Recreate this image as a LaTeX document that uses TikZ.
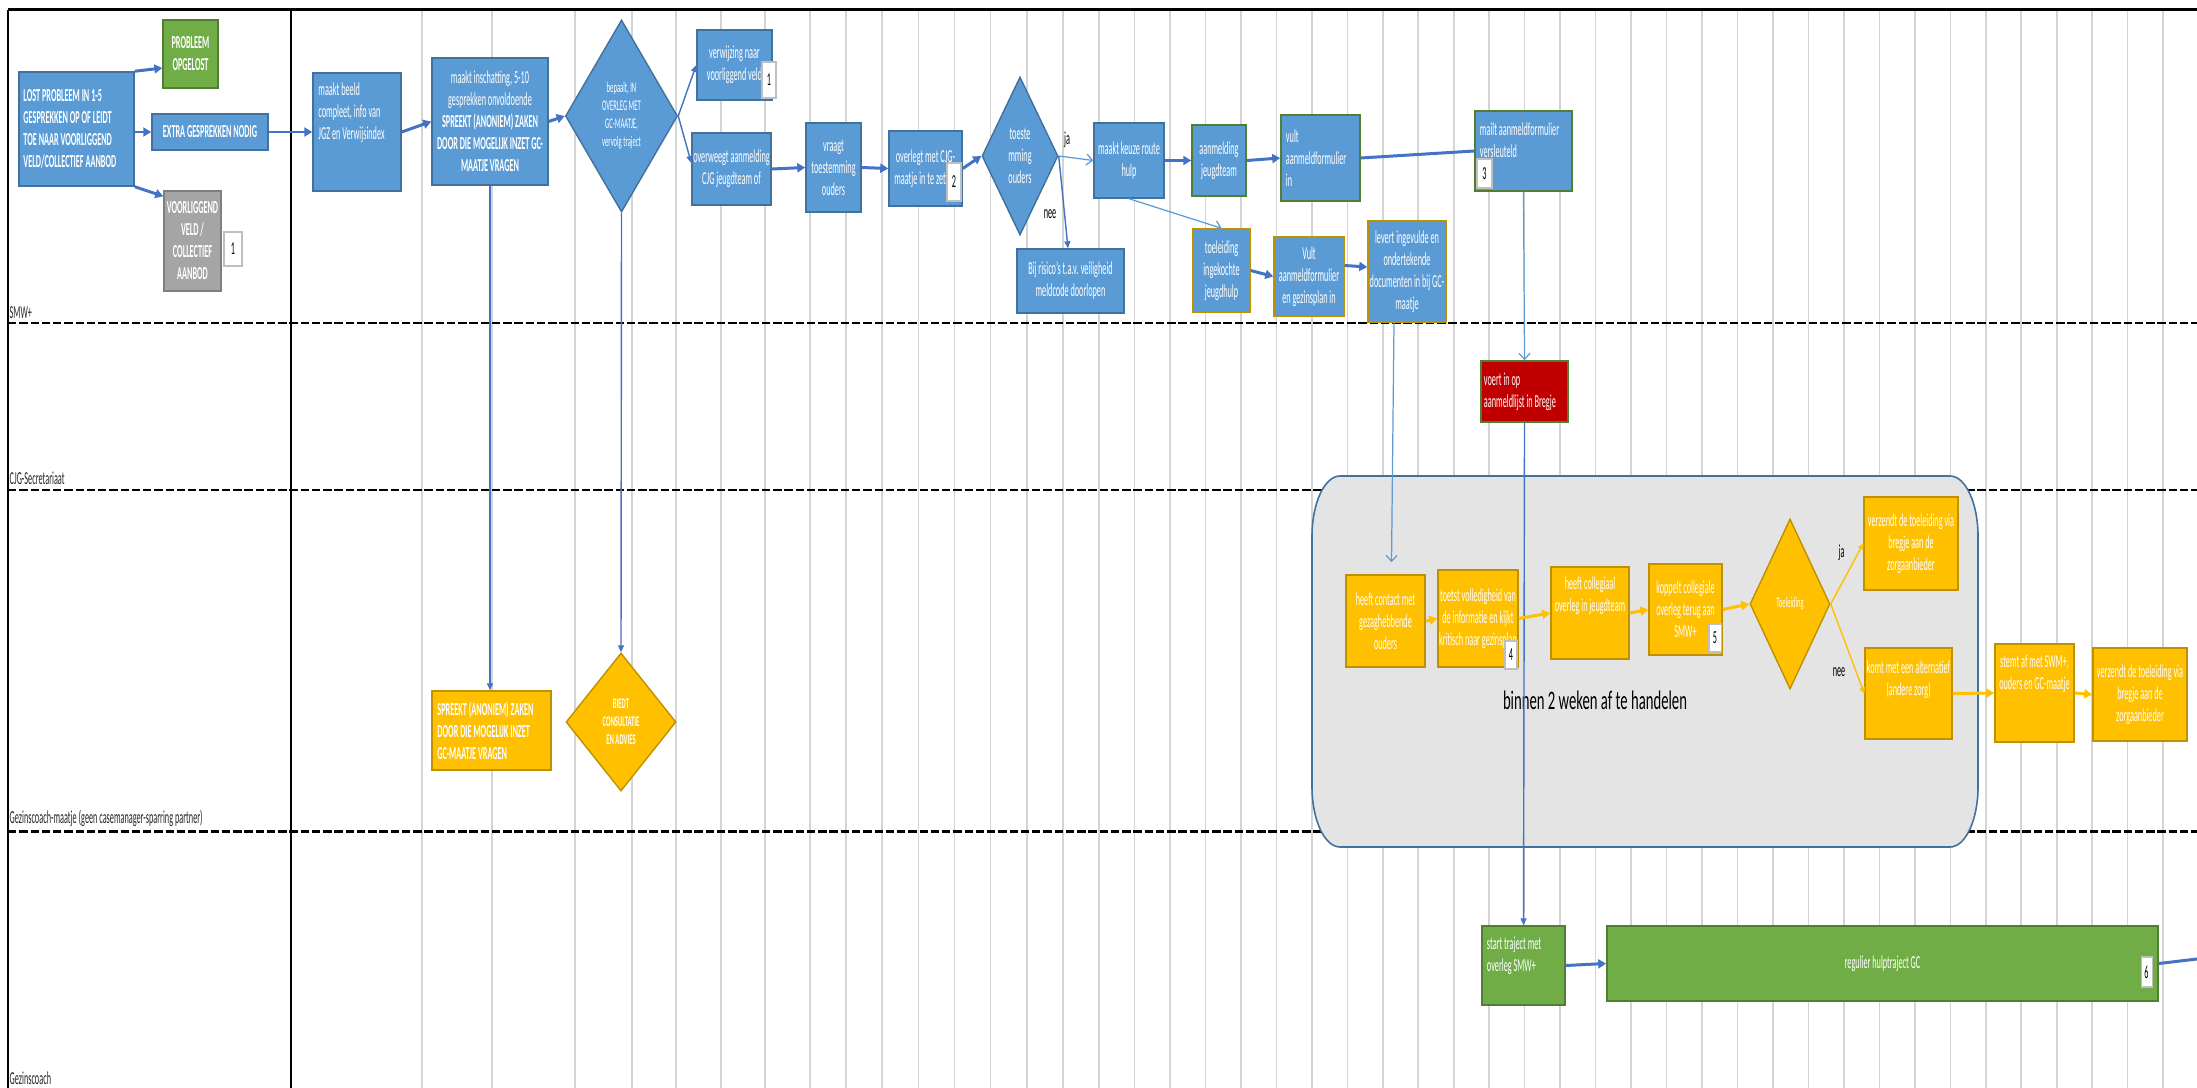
\documentclass[tikz,border=0pt]{standalone}
\usepackage{fontspec}
\setmainfont{Carlito}[FakeStretch=0.45]
\newfontfamily\grootfont{Carlito}[FakeStretch=0.55]
\usetikzlibrary{arrows.meta,backgrounds,shapes.geometric}

\definecolor{vlakblauw}{HTML}{5B9BD5}
\definecolor{randblauw}{HTML}{41719C}
\definecolor{lijnblauw}{HTML}{4472C4}
\definecolor{vlakgroen}{HTML}{70AD47}
\definecolor{randgroen}{HTML}{507E32}
\definecolor{randgoud}{HTML}{BF9000}
\definecolor{vlakgeel}{HTML}{FFC000}
\definecolor{vlakgrijs}{HTML}{A5A5A5}
\definecolor{randgrijs}{HTML}{7F7F7F}
\definecolor{vlakrood}{HTML}{C00000}
\definecolor{kadervlak}{HTML}{E4E4E4}
\definecolor{raster}{HTML}{D4D4D4}

\tikzset{
  letter/.style={font=\fontsize{5.2}{6.25}\selectfont},
  vet/.style={font=\fontsize{5.2}{6.25}\selectfont\bfseries},
  klein/.style={font=\fontsize{4.2}{5.1}\selectfont},
  kleinvet/.style={font=\fontsize{4.2}{5.1}\selectfont\bfseries},
  basis/.style={letter, line width=0.4pt, inner sep=0pt, text=white, align=center},
  blauw/.style={basis, draw=randblauw, fill=vlakblauw},
  blauwgroen/.style={blauw, draw=randgroen},
  blauwgoud/.style={blauw, draw=randgoud},
  groen/.style={basis, draw=randgroen, fill=vlakgroen},
  grijs/.style={basis, draw=randgrijs, fill=vlakgrijs},
  geel/.style={basis, draw=randgoud, fill=vlakgeel},
  rood/.style={basis, draw=randgroen, fill=vlakrood},
  ruit/.style={diamond, aspect=#1},
  maat/.style 2 args={minimum width=#1mm, minimum height=#2mm},
  nummer/.style={letter, draw=black!25, fill=white, line width=0.3pt, inner sep=0pt},
  tekst/.style={letter, text=white, inner sep=0pt, align=flush left},
  baan/.style={letter, anchor=base west, inner sep=0pt, text=black!85},
  keus/.style={letter, inner sep=0pt, text=black},
  dik/.style={draw=lijnblauw, line width=0.85pt, -{Triangle[length=0.8mm, width=0.9mm]}},
  dun/.style={draw=lijnblauw, line width=0.4pt, -{Triangle[length=0.7mm, width=0.6mm]}},
  licht/.style={draw=vlakblauw, line width=0.35pt, -{Straight Barb[length=0.6mm, width=1.1mm]}},
  geelpijl/.style={draw=vlakgeel, line width=0.85pt, -{Triangle[length=0.8mm, width=0.9mm]}},
  geeldun/.style={draw=vlakgeel, line width=0.4pt, -{Triangle[length=0.6mm, width=0.6mm]}},
  baanlijn/.style={line width=0.85pt, dash pattern=on 2.4pt off 0.8pt},
}

\begin{document}
\begin{tikzpicture}[x=0.01cm, y=-0.01cm]
\useasboundingbox (0,0) rectangle (2197,1088);

% baan SMW+
\node[blauw, vet, maat={11.5}{11.4}, text width=10.6mm, align=flush left] (lost) at (76.5,129)
  {LOST PROBLEEM IN 1-5\\GESPREKKEN OP OF LEIDT\\TOE NAAR VOORLIGGEND\\VELD/COLLECTIEF AANBOD};
\node[groen, vet, maat={5.5}{6.8}] (opgelost) at (190.5,54) {PROBLEEM\\OPGELOST};
\node[blauw, vet, maat={11.6}{3.6}] (extra) at (210,132) {EXTRA GESPREKKEN NODIG};
\node[grijs, vet, maat={5.7}{10}] (voorl) at (192.5,241) {VOORLIGGEND\\VELD /\\COLLECTIEF\\AANBOD};
\node[nummer, maat={1.8}{3.4}] (nr1a) at (233,249) {1};

\node[blauw, maat={8.8}{11.8}] (beeld) at (357,132) {};
\node[tekst, text width=7.7mm] (beeldT) at ([yshift=1.9mm]beeld) {maakt beeld\\compleet, info van\\JGZ en Verwijsindex};
\node[blauw, maat={11.6}{12.7}] (inschat) at (490,121.5)
  {maakt inschatting, 5-10\\gesprekken onvoldoende\\\textbf{SPREEKT (ANONIEM) ZAKEN}\\\textbf{DOOR DIE MOGELIJK INZET GC-}\\\textbf{MAATJE VRAGEN}};
\node[blauw, klein, ruit=0.58, maat={11.2}{19.2}] (bepaalt) at (621.5,116) {bepaalt, IN\\OVERLEG MET\\GC-MAATJE,\\vervolg traject};

\node[blauw, maat={7.5}{7}] (verwijz) at (734.5,65) {verwijzing naar\\voorliggend veld};
\node[nummer, maat={1.4}{3.6}] (nr1b) at (769,80) {1};
\node[blauw, maat={7.9}{7.2}] (overweegt) at (731.5,169) {overweegt aanmelding\\CJG jeugdteam of};
\node[blauw, maat={5.5}{8.9}] (vraagt) at (833.5,167.5) {vraagt\\toestemming\\ouders};
\node[blauw, maat={7.3}{7.5}] (overlegt) at (925.5,168.5) {overlegt met CJG-\\maatje in te zetten};
\node[nummer, maat={1.4}{3.8}] (nr2) at (954,182) {2};
\node[blauw, ruit=0.48, maat={7.6}{15.8}] (toestem) at (1020,156) {toeste\\mming\\ouders};
\node[blauw, maat={10.7}{6.4}] (risico) at (1070.5,281) {Bij risico's t.a.v. veiligheid\\meldcode doorlopen};

\node[blauw, maat={7}{7.5}] (keuze) at (1129,160.5) {maakt keuze route\\hulp};
\node[blauwgroen, maat={5.4}{7.1}] (aanmjt) at (1219,160.5) {aanmelding\\jeugdteam};
\node[blauwgroen, maat={7.9}{8.6}, text width=6.9mm, align=flush left] (vult) at (1320.5,158) {vult\\aanmeldformulier\\in};
\node[blauwgroen, maat={9.7}{8}] (mailt) at (1523.5,151) {};
\node[tekst, text width=8.7mm] (mailtT) at ([yshift=1.1mm]mailt) {mailt aanmeldformulier\\versleuteld};
\node[nummer, maat={1.5}{2.9}] (nr3) at (1484.5,173.5) {3};

\node[blauwgoud, maat={5.7}{8.3}] (toeleid) at (1221.5,270.5) {toeleiding\\ingekochte\\jeugdhulp};
\node[blauwgoud, maat={7}{7.9}] (vultgp) at (1309,276.5) {Vult\\aanmeldformulier\\en gezinsplan in};
\node[blauwgoud, maat={7.8}{10.1}] (levert) at (1407,271.5) {levert ingevulde en\\ondertekende\\documenten in bij GC-\\maatje};

\node[keus] (ja1) at (1067,140) {ja};
\node[keus] (nee1) at (1050,214) {nee};

% baan CJG-Secretariaat
\node[rood, maat={8.7}{6.1}, text width=8.1mm, align=flush left] (voert) at (1524.5,391.5) {voert in op\\aanmeldlijst in Bregje};

% baan Gezinscoach-maatje
\node[geel, vet, maat={11.9}{7.9}, text width=10.8mm, align=flush left] (spreekt) at (491.5,730.5)
  {SPREEKT (ANONIEM) ZAKEN\\DOOR DIE MOGELIJK INZET\\GC-MAATJE VRAGEN};
\node[geel, kleinvet, ruit=0.8, maat={11}{13.8}] (biedt) at (621,722) {BIEDT\\CONSULTATIE\\EN ADVIES};

\node[geel, maat={7.9}{9.2}] (contact) at (1385.5,621) {heeft contact met\\gezaghebbende\\ouders};
\node[geel, maat={8}{9.7}] (toetst) at (1478,618.5) {toetst volledigheid van\\de informatie en kijkt\\kritisch naar gezinsplan};
\node[nummer, maat={1.2}{2.8}] (nr4) at (1511,655) {4};
\node[geel, maat={7.8}{9.2}] (colleg) at (1590,613) {};
\node[tekst, align=center] (collegT) at ([yshift=1.7mm]colleg) {heeft collegiaal\\overleg in jeugdteam};
\node[geel, maat={7.3}{9.1}] (koppelt) at (1685.5,609.5) {koppelt collegiale\\overleg terug aan\\SMW+};
\node[nummer, maat={1.2}{2.8}] (nr5) at (1715,638) {5};
\node[geel, klein, ruit=0.47, maat={8}{17}] (toeldia) at (1790,604) {Toeleiding};
\node[geel, maat={9.4}{9.3}] (verz1) at (1911,543.5) {verzendt de toeleiding via\\bregje aan de\\zorgaanbieder};
\node[geel, maat={8.7}{9.1}] (alt) at (1908.5,693.5) {};
\node[tekst, align=center] (altT) at ([yshift=1.4mm]alt) {komt met een alternatief\\(andere zorg)};
\node[keus] (ja2) at (1841.5,553) {ja};
\node[keus] (nee2) at (1839,672) {nee};
\node[geel, maat={7.9}{9.8}] (stemt) at (2034.5,693) {};
\node[tekst, align=center] (stemtT) at ([yshift=1.9mm]stemt) {stemt af met SWM+,\\ouders en GC-maatje};
\node[geel, maat={9.4}{9.3}] (verz2) at (2140,694.5) {verzendt de toeleiding via\\bregje aan de\\zorgaanbieder};
\node[inner sep=0pt, text=black, font=\grootfont\fontsize{7.6}{9}\selectfont] (binnen) at (1595,700) {binnen 2 weken af te handelen};

% baan Gezinscoach
\node[groen, maat={8.3}{7.9}] (start) at (1523.5,965.5) {};
\node[tekst, text width=7.3mm] (startT) at ([yshift=1mm]start) {start traject met\\overleg SMW+};
\node[groen, maat={55.1}{7.5}] (regulier) at (1882.5,963.5) {regulier hulptraject GC};
\node[nummer, maat={1.1}{3}] (nr6) at (2146.5,972) {6};
\coordinate (uit) at (2197,959);

% baannamen
\node[baan] (lsmw) at (9,318) {SMW+};
\node[baan] (lcjg) at (9,484) {CJG-Secretariaat};
\node[baan] (lgcm) at (9,823) {Gezinscoach-maatje (geen casemanager-sparring partner)};
\node[baan] (lgc) at (9,1084) {Gezinscoach};

% pijlen
\draw[dik] (lost.north east) -- ([yshift=-1.4mm]opgelost.west);
\draw[dik] (extra.west -| lost.east) -- (extra.west);
\draw[dik] (lost.south east) -- ([yshift=-0.6mm]voorl.north west);
\draw[dik] (extra.east) -- (extra.east -| beeld.west);
\draw[dik] (beeld.east) -- (inschat.west);
\draw[dik] (inschat.east) -- (bepaalt.west);
\draw[dun] (bepaalt.east) -- (verwijz.west);
\draw[dun] (bepaalt.east) -- ([yshift=0.6mm]overweegt.west);
\draw[dik] (overweegt.east) -- (vraagt.west);
\draw[dik] (vraagt.east) -- (overlegt.west);
\draw[dik] (overlegt.east) -- (toestem.west);
\draw[licht] (toestem.east) -- (keuze.west);
\draw[dun] (toestem.east) -- ([xshift=-0.25mm]risico.north);
\draw[dik] (keuze.east) -- (aanmjt.west);
\draw[dik] (aanmjt.east) -- (vult.west);
\draw[draw=lijnblauw, line width=0.85pt] (vult.east) -- (mailt.west);
\draw[licht] (keuze.south) -- (toeleid.north);
\draw[dik] (toeleid.east) -- (vultgp.west);
\draw[dik] ([yshift=1.1mm]vultgp.east) -- ([yshift=0.45mm]levert.west);
\draw[licht] ([xshift=-1.3mm]levert.south) -- ([xshift=0.6mm,yshift=1.2mm]contact.north);
\draw[licht] (mailt.south) -- (voert.north);
\draw[dun] (voert.south) -- (start.north);
\draw[dun] (inschat.south) -- (inschat.south |- spreekt.north);
\draw[dun] (bepaalt.south) -- (biedt.north);
\draw[dik] (start.east) -- (regulier.west);
\draw[draw=lijnblauw, line width=0.85pt] (regulier.east) -- (uit);

\draw[geelpijl] (contact.east) -- (toetst.west);
\draw[geelpijl] (toetst.east) -- (colleg.west);
\draw[geelpijl] (colleg.east) -- (koppelt.west);
\draw[geelpijl] (koppelt.east) -- (toeldia.west);
\draw[geeldun] (toeldia.east) -- (verz1.west);
\draw[geeldun] (toeldia.east) -- (alt.west);
\draw[geelpijl] (alt.east) -- (stemt.west);
\draw[geelpijl] (stemt.east) -- (verz2.west);

\begin{pgfonlayer}{background}
\foreach \x in {422,492,575,632,676,721,765,810}
  \draw[raster, line width=0.45pt] (\x,10) -- (\x,1088);
\foreach \i in {0,...,6}
  \draw[raster, line width=0.45pt] ({846+36.14*\i},10) -- ({846+36.14*\i},1088);
\foreach \i in {0,...,30}
  \draw[raster, line width=0.45pt] ({1099+35.47*\i},10) -- ({1099+35.47*\i},1088);
\foreach \y in {323,490,831}
  \draw[baanlijn] (8,\y) -- (2197,\y);
\draw[line width=0.95pt] (8,9.6) -- (2197,9.6);
\draw[line width=0.6pt] (8,9.6) -- (8,1088);
\draw[line width=0.6pt] (291,9.6) -- (291,1088);
% kader binnen 2 weken
\draw[draw=randblauw, fill=kadervlak, line width=0.45pt]
  (1340,476) -- (1950,476) .. controls (1965.4,476) and (1978,503) .. (1978,536)
  -- (1978,787) .. controls (1978,820) and (1965.4,847) .. (1950,847)
  -- (1340,847) .. controls (1324.6,847) and (1312,820) .. (1312,787)
  -- (1312,536) .. controls (1312,503) and (1324.6,476) .. (1340,476) -- cycle;
\end{pgfonlayer}
\end{tikzpicture}
\end{document}
